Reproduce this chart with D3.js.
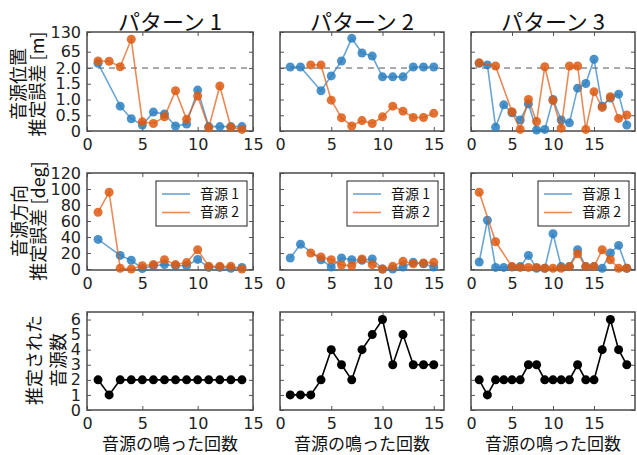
<!DOCTYPE html>
<html>
<head>
<meta charset="utf-8">
<script src="https://cdn.jsdelivr.net/npm/d3@7"></script>
<style>
  body { margin: 0; background: #fff; }
  svg { display: block; }
  .tick text { font-family: "DejaVu Sans", sans-serif; font-size: 16px; fill: #222; }
  .jp { font-family: "Noto Sans CJK JP", sans-serif; fill: #111; }
</style>
</head>
<body>
<div class="chart"></div>
<script>
const width = 637;
const height = 455;

const TITLES = ["パターン 1", "パターン 2", "パターン 3"];
const XLIM = [15, 16, 20];
const XTICKS = [0, 5, 10, 15];
const SERIES_NAMES = ["音源 1", "音源 2"];

// row 1 : position error [m]  (above 2.0 the axis is compressed)
const posTicks = [0, 0.5, 1, 1.5, 2, 65, 130];
const posTickLabels = ["0", "0.5", "1.0", "1.5", "2.0", "65", "130"];
const pos1Blue = [20, null, 0.79, 0.39, 0.19, 0.6, 0.54, 0.16, 0.22, 1.3, 0.14, 0.14, 0.14, 0.14];
const pos1Orange = [29, 28, 7, 106, 0.29, 0.24, 0.45, 1.28, 0.37, 1.11, 0.1, 1.43, 0.12, 0.05];
const pos2Blue = [6, 6, null, 1.28, 1.75, 29, 109, 60, 48, 1.72, 1.72, 1.72, 6, 6, 6];
const pos2Orange = [null, null, 14, 14, 0.98, 0.42, 0.16, 0.33, 0.24, 0.45, 0.79, 0.63, 0.43, 0.43, 0.56];
const pos3Blue = [20, 14, 0.12, 0.83, 0.58, 0.35, 0.86, 0.03, 0.05, 1.0, 0.35, 0.26, 1.36, 1.51, 36, 0.79, 1.05, 1.17, 0.19];
const pos3Orange = [22, null, 10, null, 0.61, 0.05, 1.0, 0.3, 7, 0.97, 0.09, 10, 10, 0.05, 1.25, 0.75, 1.09, 0.4, 0.51];

// row 2 : direction error [deg]
const dirTicks = [0, 20, 40, 60, 80, 100, 120];
const dir1Blue = [37, null, 17, 11, 0.5, 4, 5.5, 4, 4, 12, 2, 2, 1, 2];
const dir1Orange = [71, 96, 1, 0, 4, 5.5, 11.5, 5.5, 8, 24, 3.5, 3.5, 3.5, 0];
const dir2Blue = [13.7, 31, null, 11.6, 2.5, 13.7, 11.6, 11, 12.5, 0, 0, 2.5, 8.3, 6.6, 2.5];
const dir2Orange = [null, null, 20, 15, 11.6, 5, 4, 12.5, 5.4, 0, 3.3, 9.6, 6.6, 7.5, 8.3];
const dir3Blue = [8.7, 61, 2, 2, 2.5, 3, 17, 1, 1, 44, 3, 3, 24, 3, 3, 1, 20, 29.5, 1];
const dir3Orange = [96, null, 34, null, 3, 2, 2, 2, 1, 1, 1, 3, 19, 3, 3, 24, 11.6, 1, 1];

// row 3 : number of estimated sources
const countTicks = [0, 1, 2, 3, 4, 5, 6];
const count1 = [2, 1, 2, 2, 2, 2, 2, 2, 2, 2, 2, 2, 2, 2];
const count2 = [1, 1, 1, 2, 4, 3, 2, 4, 5, 6, 3, 5, 3, 3, 3];
const count3 = [2, 1, 2, 2, 2, 2, 3, 3, 2, 2, 2, 2, 3, 2, 2, 4, 6, 4, 3];

const BLUE = "#2a7fc0";
const ORANGE = "#dd5a12";

const colX = [87, 280, 471];
const colW = [166, 164, 164];
const rowY = [32, 173, 312];
const rowH = [99, 97, 98];

const svg = d3.select(".chart").append("svg").attr("width", width).attr("height", height);

function toPts(arr) {
    return arr.map((v, i) => ({ x: i + 1, v: v })).filter(d => d.v != null);
}

function frame(r, c, y, yTicks, yLabels) {
    const g = svg.append("g").attr("transform", `translate(${colX[c]},${rowY[r]})`);
    const w = colW[c], h = rowH[r];
    const x = d3.scaleLinear().domain([0, XLIM[c]]).range([0, w]);

    const bottom = g.append("g").attr("transform", `translate(0,${h})`)
        .call(d3.axisBottom(x).tickValues(XTICKS).tickSize(-4).tickPadding(8));
    const top = g.append("g").call(d3.axisTop(x).tickValues(XTICKS).tickSize(-4).tickFormat(""));
    const left = g.append("g").call(d3.axisLeft(y).tickValues(yTicks).tickSize(-4).tickPadding(6)
        .tickFormat((d, i) => c == 0 ? (yLabels ? yLabels[i] : d) : ""));
    const right = g.append("g").attr("transform", `translate(${w},0)`)
        .call(d3.axisRight(y).tickValues(yTicks).tickSize(-4).tickFormat(""));
    [bottom, top, left, right].forEach(a => {
        a.select(".domain").remove();
        a.selectAll(".tick line").attr("stroke", "#555");
    });
    bottom.selectAll(".tick text").attr("dy", "0.71em");
    g.append("rect").attr("width", w).attr("height", h)
        .attr("fill", "none").attr("stroke", "#4a4a4a").attr("stroke-width", 1.5);
    return { g, x, w, h };
}

function series(p, y, arr, color, lineOpacity, r) {
    const pts = toPts(arr);
    const line = d3.line().x(d => p.x(d.x)).y(d => y(d.v));
    p.g.append("path").datum(pts).attr("d", line).attr("fill", "none")
        .attr("stroke", color).attr("stroke-opacity", lineOpacity).attr("stroke-width", 1.6);
    p.g.selectAll(null).data(pts).enter().append("circle")
        .attr("cx", d => p.x(d.x)).attr("cy", d => y(d.v)).attr("r", r)
        .attr("fill", color).attr("fill-opacity", color == "#000" ? 1 : 0.85);
}

function legend(p) {
    const lg = p.g.append("g").attr("transform", `translate(${p.w - 97},8)`);
    lg.append("rect").attr("width", 91).attr("height", 45)
        .attr("fill", "#fff").attr("stroke", "#222").attr("stroke-width", 1);
    [BLUE, ORANGE].forEach((col, i) => {
        const yy = 13 + i * 18.5;
        lg.append("line").attr("x1", 6).attr("x2", 34).attr("y1", yy).attr("y2", yy)
            .attr("stroke", col).attr("stroke-opacity", 0.7).attr("stroke-width", 1.6);
        lg.append("text").attr("class", "jp").attr("x", 44).attr("y", yy)
            .attr("dy", "0.35em").attr("font-size", 14).text(SERIES_NAMES[i]);
    });
}

const posData = [[pos1Blue, pos1Orange], [pos2Blue, pos2Orange], [pos3Blue, pos3Orange]];
const dirData = [[dir1Blue, dir1Orange], [dir2Blue, dir2Orange], [dir3Blue, dir3Orange]];
const countData = [count1, count2, count3];

for (let c = 0; c < 3; c++) {
    // row 1
    let h = rowH[0];
    let y = d3.scaleLinear().domain([0, 2, 65, 130]).range([h, h * 0.364, h * 0.199, 0]);
    let p = frame(0, c, y, posTicks, posTickLabels);
    p.g.append("line").attr("x1", 0).attr("x2", p.w).attr("y1", y(2)).attr("y2", y(2))
        .attr("stroke", "#555").attr("stroke-dasharray", "6,5").attr("stroke-width", 1);
    series(p, y, posData[c][0], BLUE, 0.7, 4.5);
    series(p, y, posData[c][1], ORANGE, 0.7, 4.5);
    svg.append("text").attr("class", "jp").attr("x", colX[c] + colW[c] / 2).attr("y", 30)
        .attr("text-anchor", "middle").attr("font-size", 22).text(TITLES[c]);

    // row 2
    h = rowH[1];
    y = d3.scaleLinear().domain([0, 120]).range([h - 1, 0]);
    p = frame(1, c, y, dirTicks);
    series(p, y, dirData[c][0], BLUE, 0.7, 4.5);
    series(p, y, dirData[c][1], ORANGE, 0.7, 4.5);
    legend(p);

    // row 3
    h = rowH[2];
    y = d3.scaleLinear().domain([0, 6.5]).range([h, 0]);
    p = frame(2, c, y, countTicks);
    series(p, y, countData[c], "#000", 1, 4.5);

    svg.append("text").attr("class", "jp").attr("x", colX[c] + colW[c] / 2).attr("y", 450)
        .attr("text-anchor", "middle").attr("font-size", 17).text("音源の鳴った回数");
}

// rotated y labels
const YLABELS = [
    { lines: ["音源位置", "推定誤差 [m]"], xs: [19, 38], cy: 84 },
    { lines: ["音源方向", "推定誤差 [deg]"], xs: [20, 39], cy: 221 },
    { lines: ["推定された", "音源数"], xs: [35, 59], cy: 360 }
];
YLABELS.forEach(lab => {
    lab.lines.forEach((t, i) => {
        svg.append("text").attr("class", "jp")
            .attr("transform", `translate(${lab.xs[i]},${lab.cy}) rotate(-90)`)
            .attr("text-anchor", "middle").attr("dy", "0.35em")
            .attr("font-size", 18).text(t);
    });
});
</script>
</body>
</html>
